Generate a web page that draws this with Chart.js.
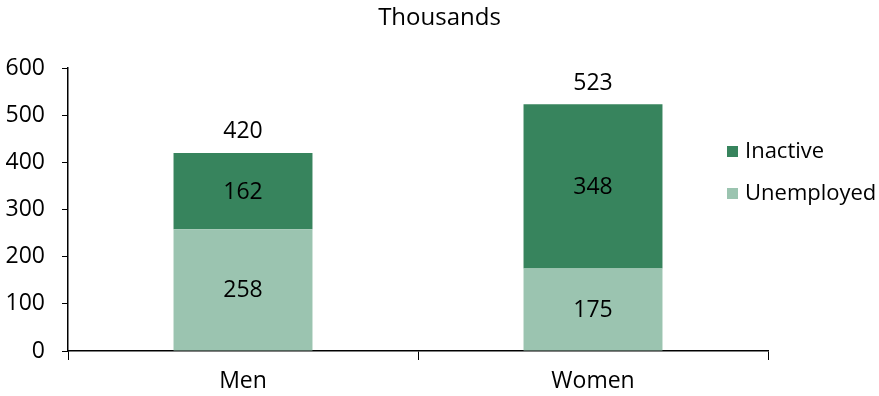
<!DOCTYPE html>
<html>
<head>
<meta charset="utf-8">
<script src="https://cdn.jsdelivr.net/npm/chart.js@4"></script>
<style>
html,body{margin:0;padding:0;background:#fff;}
#wrap{width:879px;height:396px;}
</style>
</head>
<body>
<div id="wrap"><canvas id="c" width="879" height="396"></canvas></div>
<script>
const categories = ['Men', 'Women'];
const unemployed = [258, 175];
const inactive = [162, 348];
const totals = [420, 523];
const yTicks = [0, 100, 200, 300, 400, 500, 600];
const titleText = 'Thousands';

const FONT = "'Open Sans', sans-serif";
const DARK = '#37845d';
const LIGHT = '#9bc4b0';

const labelPlugin = {
  id: 'labels',
  afterDatasetsDraw(chart) {
    const ctx = chart.ctx;
    ctx.save();
    // title centred on the whole canvas
    ctx.font = '24px ' + FONT;
    ctx.fillStyle = '#000';
    ctx.textAlign = 'center';
    ctx.textBaseline = 'middle';
    ctx.fillText(titleText, chart.width / 2, 18);

    ctx.font = '23px ' + FONT;
    chart.data.datasets.forEach((ds, di) => {
      const meta = chart.getDatasetMeta(di);
      meta.data.forEach((bar, i) => {
        const yc = (bar.y + bar.base) / 2;
        ctx.fillText(String(ds.data[i]), bar.x, yc + 1);
      });
    });
    const yScale = chart.scales.y;
    const meta0 = chart.getDatasetMeta(0);
    totals.forEach((t, i) => {
      const x = meta0.data[i].x;
      const y = yScale.getPixelForValue(t);
      ctx.fillText(String(t), x, y - 21);
    });
    // legend
    const items = [
      {label: chart.data.datasets[1].label, color: chart.data.datasets[1].backgroundColor, y: 152},
      {label: chart.data.datasets[0].label, color: chart.data.datasets[0].backgroundColor, y: 194}
    ];
    ctx.font = '22px ' + FONT;
    ctx.textAlign = 'left';
    items.forEach(it => {
      ctx.fillStyle = it.color;
      ctx.fillRect(727, it.y - 6, 11, 11);
      ctx.fillStyle = '#000';
      ctx.fillText(it.label, 745, it.y);
    });
    ctx.restore();
  }
};

new Chart(document.getElementById('c'), {
  type: 'bar',
  data: {
    labels: categories,
    datasets: [
      {label: 'Unemployed', data: unemployed, backgroundColor: LIGHT, barPercentage: 0.397, categoryPercentage: 1},
      {label: 'Inactive', data: inactive, backgroundColor: DARK, barPercentage: 0.397, categoryPercentage: 1}
    ]
  },
  options: {
    responsive: false,
    animation: false,
    devicePixelRatio: 1,
    layout: {padding: {left: 0, right: 111, top: 68, bottom: 0}},
    plugins: {
      legend: {display: false},
      tooltip: {enabled: false},
      title: {display: false}
    },
    scales: {
      x: {
        stacked: true,
        grid: {display: true, drawOnChartArea: false, drawTicks: true, tickLength: 9, color: '#000', offset: true},
        border: {display: true, color: '#000', width: 1.5},
        ticks: {color: '#000', font: {family: FONT, size: 23}, padding: 8},
        afterFit(s) { s.height = 45; }
      },
      y: {
        stacked: true,
        min: 0, max: 600,
        afterBuildTicks(s) { s.ticks = yTicks.map(v => ({value: v})); },
        grid: {display: true, drawOnChartArea: false, drawTicks: true, tickLength: 6, color: '#000'},
        border: {display: true, color: '#000', width: 1.5},
        ticks: {color: '#000', font: {family: FONT, size: 23}, padding: 17},
        afterFit(s) { s.width = 68; }
      }
    }
  },
  plugins: [labelPlugin]
});
</script>
</body>
</html>
